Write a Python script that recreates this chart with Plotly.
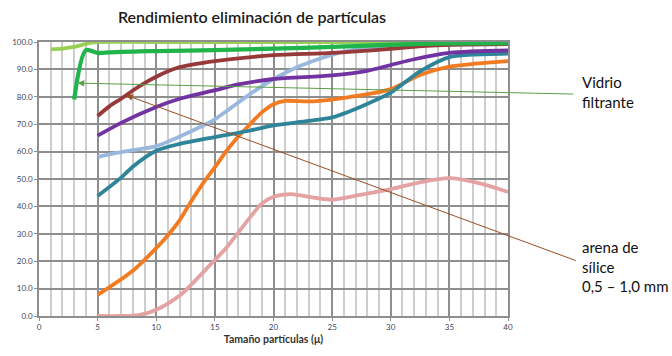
import plotly.graph_objects as go

# Particle size (microns) and removal efficiency (%) for each filter medium
x_light_green = [1, 2, 3, 4, 4.5, 5, 10, 20, 30, 40]
y_light_green = [97.3, 97.6, 98.2, 99.3, 99.8, 100, 100, 100, 100, 100]

x_green = [3, 4, 5, 6, 8, 10, 15, 20, 25, 30, 35, 40]
y_green = [79, 97, 96, 96.2, 96.5, 96.7, 97, 97.6, 98.2, 99, 99.5, 99.6]

x_dark_red = [5, 6, 7, 8, 9, 10, 11, 12, 15, 20, 25, 30, 33, 35, 40]
y_dark_red = [73, 76.5, 79.3, 82.3, 85, 87.3, 89.3, 90.8, 93, 95.2, 96, 97.5, 98.6, 99, 99.2]

x_purple = [5, 7, 10, 12, 15, 17, 20, 25, 28, 30, 32, 35, 40]
y_purple = [65.8, 70.5, 76.3, 79.3, 82.4, 84.5, 86.5, 87.8, 89.5, 91.6, 93.7, 96, 96.9]

x_light_blue = [5, 6, 8, 10, 12, 14, 15, 16, 18, 20, 22, 24, 26, 28, 30, 35, 40]
y_light_blue = [58, 59, 60.5, 62, 65.5, 69.5, 71.8, 74.8, 81, 86.5, 90.8, 94, 96.5, 97.8, 98.5, 99, 99.2]

x_teal = [5, 7, 8, 10, 12, 15, 18, 20, 23, 25, 27.5, 30, 32.5, 35, 37, 40]
y_teal = [43.8, 50.5, 54.5, 60.3, 62.8, 65.3, 67.7, 69.6, 71.2, 72.5, 76.5, 81.5, 89.3, 94.5, 95.4, 95.8]

x_orange = [5, 8, 10, 11, 12, 13, 14, 15, 16, 17, 18, 19, 20, 21, 23, 25, 27.5, 30, 32.5, 35, 37, 40]
y_orange = [7.7, 16.5, 24.8, 29.5, 35, 42, 48.5, 54.3, 60.3, 65.5, 70, 74.3, 77.3, 78.5, 78.3, 79, 80.6, 82.8, 88, 91, 92, 93]

x_pink = [5, 7, 8.5, 10, 12, 13, 15, 16, 17, 18, 19, 20, 21.5, 23, 25, 27.5, 30, 32.5, 35, 37.5, 40]
y_pink = [0, 0, 0.3, 2.3, 7.5, 11.5, 20.5, 25, 30.5, 36, 41, 43.5, 44.5, 43.5, 42.5, 44.3, 46.3, 48.8, 50.3, 48.5, 45.3]

series = [
    (x_pink, y_pink, "#E4A2A2", 3.8),
    (x_orange, y_orange, "#F27B22", 3.8),
    (x_teal, y_teal, "#2E8599", 3.8),
    (x_light_blue, y_light_blue, "#9AB8DD", 3.8),
    (x_purple, y_purple, "#7233A2", 3.8),
    (x_dark_red, y_dark_red, "#973839", 3.8),
    (x_light_green, y_light_green, "#98D056", 3.8),
    (x_green, y_green, "#1FB54B", 4.3),
]

x_ticks = [0, 5, 10, 15, 20, 25, 30, 35, 40]
y_ticks = [0, 10, 20, 30, 40, 50, 60, 70, 80, 90, 100]

# Plot-area geometry in pixels, used to place the side labels
W, H = 672, 356
L, R, T, B = 39, 164, 42, 33
PW, PH = W - L - R, H - T - B


def paper_x(px):
    return (px - L) / PW


def paper_y(py):
    return (H - B - py) / PH


fig = go.Figure()
for xs, ys, color, width in series:
    fig.add_trace(go.Scatter(
        x=xs, y=ys, mode="lines",
        line=dict(color=color, width=width, shape="spline", smoothing=0.8),
        cliponaxis=False, hoverinfo="skip",
    ))

tick_font = dict(family="Lato, Open Sans, sans-serif", size=8, color="#3E4460")

fig.update_xaxes(
    range=[0, 40], tickvals=x_ticks, ticktext=[str(v) for v in x_ticks],
    showgrid=True, gridcolor="#8E8E8E", gridwidth=1.5,
    minor=dict(dtick=1, showgrid=True, gridcolor="#CDCDCD", gridwidth=1.5),
    showline=True, linecolor="#8E8E8E", linewidth=1.5, mirror=True,
    ticks="outside", ticklen=3, tickcolor="#8E8E8E",
    zeroline=False, tickfont=tick_font,
    title=dict(text="<b>Tamaño partículas (μ)</b>",
               font=dict(family="Lato, Open Sans, sans-serif", size=10.5, color="#333333"),
               standoff=4),
)
fig.update_yaxes(
    range=[0, 100], tickvals=y_ticks, ticktext=[f"{v:.1f}" for v in y_ticks],
    showgrid=True, gridcolor="#8E8E8E", gridwidth=1.5,
    showline=True, linecolor="#8E8E8E", linewidth=1.5, mirror=True,
    ticks="outside", ticklen=3, tickcolor="#8E8E8E",
    zeroline=False, tickfont=tick_font,
)

label_font = dict(family="Lato, Open Sans, sans-serif", size=15, color="#111111")

# Callout arrows pointing from the side labels to their curves
fig.add_annotation(
    x=3.3, y=85, xref="x", yref="y", ax=497, ay=11, axref="pixel", ayref="pixel",
    showarrow=True, arrowhead=2, arrowsize=1.3, arrowwidth=1, arrowcolor="#5E9E48", text="",
)
fig.add_annotation(
    x=7.45, y=80.6, xref="x", yref="y", ax=451, ay=166, axref="pixel", ayref="pixel",
    showarrow=True, arrowhead=2, arrowsize=1.3, arrowwidth=1, arrowcolor="#9A4E22", text="",
)
fig.add_annotation(
    x=paper_x(580), y=paper_y(72), xref="paper", yref="paper", xanchor="left", yanchor="top",
    text="Vidrio<br>filtrante", showarrow=False, align="left", font=label_font,
)
fig.add_annotation(
    x=paper_x(580), y=paper_y(241), xref="paper", yref="paper", xanchor="left", yanchor="top",
    text="arena de<br>sílice<br>0,5 – 1,0 mm", showarrow=False, align="left", font=label_font,
)

fig.update_layout(
    width=W, height=H,
    margin=dict(l=L, r=R, t=T, b=B),
    paper_bgcolor="white", plot_bgcolor="white",
    showlegend=False,
    title=dict(text="Rendimiento eliminación de partículas",
               x=252 / W, xanchor="center", y=1 - 17 / H, yanchor="middle",
               font=dict(family="Lato, Open Sans, sans-serif", size=16, color="#1A1A1A", weight=600)),
)

fig.write_html("out.html")
